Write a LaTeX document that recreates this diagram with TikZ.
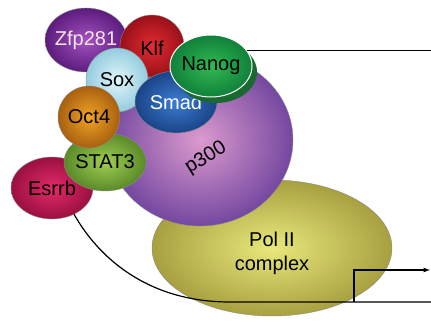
\documentclass[tikz,border=0pt]{standalone}
\usepackage{fontspec}
\setmainfont{Liberation Sans}
\usetikzlibrary{shapes.geometric,shadows}

\definecolor{polin}{HTML}{E8E87C}
\definecolor{polout}{HTML}{A8A040}
\definecolor{pin}{HTML}{DC9ACE}
\definecolor{pout}{HTML}{7448A0}
\definecolor{zfpin}{HTML}{A452C2}
\definecolor{zfpout}{HTML}{5C1C7C}
\definecolor{klfin}{HTML}{E22C32}
\definecolor{klfout}{HTML}{9A1018}
\definecolor{soxin}{HTML}{E2F6FA}
\definecolor{soxout}{HTML}{94CCDE}
\definecolor{smadin}{HTML}{3C7CD2}
\definecolor{smadout}{HTML}{1A4488}
\definecolor{nanin}{HTML}{32BA52}
\definecolor{nanout}{HTML}{10803A}
\definecolor{nanshadow}{HTML}{1A6A30}
\definecolor{esrin}{HTML}{E42A6A}
\definecolor{esrout}{HTML}{9A1040}
\definecolor{statin}{HTML}{A0CE54}
\definecolor{statout}{HTML}{5A8A28}
\definecolor{octin}{HTML}{F2A424}
\definecolor{octout}{HTML}{A86010}

\tikzset{
  blob/.style={ellipse, inner sep=0pt, outer sep=0pt, draw=black!45, line width=0.4pt},
  lbl/.style={font=\fontsize{20}{24}\selectfont, text=black, inner sep=0pt},
}

\begin{document}
\begin{tikzpicture}[x=1pt,y=-1pt]
    \useasboundingbox (0,0) rectangle (431,325);

    % big complexes
    \node[blob, minimum width=240, minimum height=136, inner color=polin, outer color=polout] (pol) at (272,248) {};
    \node[lbl, align=center] (poltxt) at (272,253) {Pol II\\complex};
    \node[blob, minimum width=186, minimum height=172, inner color=pin, outer color=pout] (p300) at (200,140) {};
    \node[lbl, rotate=32] (p300txt) at (206,158) {p300};

    % factors
    \node[blob, minimum width=82, minimum height=64, inner color=zfpin, outer color=zfpout,
          label={[lbl, text=white!90!purple]center:Zfp281}] (zfp) at (86,40) {};
    \node[blob, minimum width=64, minimum height=62, inner color=klfin, outer color=klfout,
          label={[lbl, yshift=-2pt]center:Klf}] (klf) at (152,46) {};
    \node[blob, minimum width=62, minimum height=64, inner color=soxin, outer color=soxout,
          label={[lbl]center:Sox}] (sox) at (117,80) {};
    \node[blob, minimum width=82, minimum height=62, inner color=smadin, outer color=smadout,
          label={[lbl, text=white]center:Smad}] (smad) at (176,102) {};
    \node[blob, minimum width=82, minimum height=62, inner color=nanin, outer color=nanout,
          draw=white, line width=1pt,
          drop shadow={shadow xshift=5pt, shadow yshift=-6pt, fill=nanshadow, opacity=1},
          label={[lbl]center:Nanog}] (nanog) at (211,66) {};
    \node[blob, minimum width=82, minimum height=62, inner color=esrin, outer color=esrout,
          label={[lbl]center:Esrrb}] (esrrb) at (52,188) {};
    \node[blob, minimum width=82, minimum height=58, inner color=statin, outer color=statout,
          label={[lbl]center:STAT3}] (stat) at (105,162) {};
    \node[blob, minimum width=62, minimum height=62, inner color=octin, outer color=octout,
          label={[lbl]center:Oct4}] (oct) at (89,117) {};

    % DNA and promoter
    \coordinate (nanogend) at (431,52);
    \coordinate (dnaend) at (431,302);
    \coordinate (tss) at (354,302);
    \coordinate (tssend) at (430,270);

    \draw[line width=1.2pt] (nanog.23) -- (nanog.23 -| nanogend);
    \draw[line width=1.2pt] (esrrb.-50) .. controls (100,260) and (150,302) .. (230,302) -- (dnaend);
    \draw[line width=1.2pt, -latex] (tss) |- (tssend);
\end{tikzpicture}
\end{document}
